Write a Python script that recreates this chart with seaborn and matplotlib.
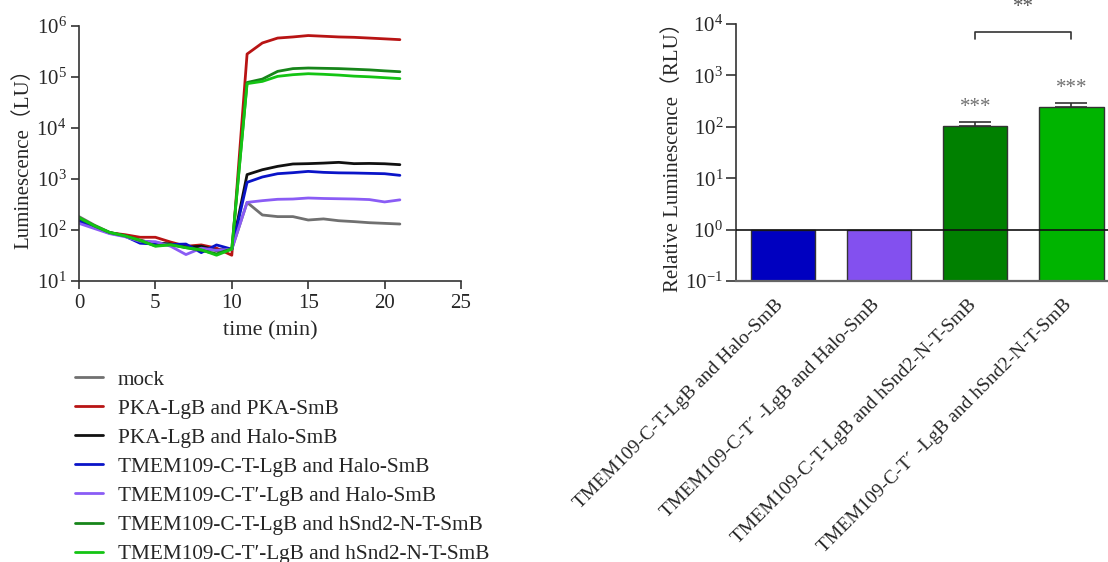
import numpy as np
import pandas as pd
import matplotlib
matplotlib.use("Agg")
import matplotlib.pyplot as plt
import matplotlib.transforms as mtransforms
import seaborn as sns
from matplotlib.ticker import LogLocator, LogFormatterSciNotation, NullLocator

# ---------------- data ----------------
time_min = list(range(22))
series_names = [
    "mock",
    "PKA-LgB and PKA-SmB",
    "PKA-LgB and Halo-SmB",
    "TMEM109-C-T-LgB and Halo-SmB",
    "TMEM109-C-T\u2032-LgB and Halo-SmB",
    "TMEM109-C-T-LgB and hSnd2-N-T-SmB",
    "TMEM109-C-T\u2032-LgB and hSnd2-N-T-SmB",
]
mock = [183, 125, 90, 78, 62, 55, 52, 46, 42, 40, 42,
        348, 197, 183, 183, 157, 165, 152, 146, 139, 135, 131]
pka_pka = [170, 120, 88, 81, 72, 72, 58, 48, 51, 44, 32,
           282000, 465000, 580000, 610000, 650000, 630000, 610000, 600000, 580000, 560000, 540000]
pka_halo = [165, 118, 88, 77, 62, 56, 53, 46, 48, 40, 42,
            1220, 1520, 1770, 1970, 2000, 2050, 2120, 2000, 2020, 1990, 1910]
ct_halo = [150, 112, 87, 76, 55, 53, 52, 53, 36, 51, 42,
           860, 1095, 1270, 1330, 1410, 1350, 1320, 1310, 1290, 1270, 1180]
ctp_halo = [135, 107, 85, 74, 60, 59, 48, 33, 44, 40, 42,
            348, 376, 400, 405, 424, 415, 410, 405, 395, 355, 390]
ct_hsnd2 = [172, 120, 89, 77, 62, 49, 52, 45, 40, 34, 43,
            78000, 91000, 129000, 146000, 150000, 148000, 146000, 142000, 138000, 132000, 127000]
ctp_hsnd2 = [175, 122, 90, 77, 63, 48, 51, 45, 41, 32, 42,
             74000, 82000, 103000, 111000, 116000, 113000, 109000, 104000, 101000, 97000, 93000]
line_colors = ["#707070", "#B81414", "#111111", "#0A14C8", "#8A5CF5", "#17851A", "#14C414"]

bar_labels = [
    "TMEM109-C-T-LgB and Halo-SmB",
    "TMEM109-C-T\u00b4 -LgB and Halo-SmB",
    "TMEM109-C-T-LgB and hSnd2-N-T-SmB",
    "TMEM109-C-T\u00b4 -LgB and hSnd2-N-T-SmB",
]
bar_values = [1.0, 1.0, 105.0, 248.0]
bar_err_upper = [0.0, 0.0, 18.0, 40.0]
bar_colors = ["#0000C0", "#8350EF", "#008000", "#00B400"]
bar_stars = ["", "", "***", "***"]

# ---------------- style ----------------
sns.set_theme(style="ticks")
plt.rcParams["font.family"] = ["Liberation Serif", "Noto Sans CJK SC"]
plt.rcParams["mathtext.fontset"] = "custom"
plt.rcParams["mathtext.rm"] = "Liberation Serif"
plt.rcParams["axes.unicode_minus"] = False
plt.rcParams["axes.edgecolor"] = "#333333"
plt.rcParams["axes.linewidth"] = 1.2

fig = plt.figure(figsize=(11.08, 5.62), dpi=100)

# ---------------- left: time course ----------------
ax1 = fig.add_axes([79 / 1108, 0.5, 382 / 1108, 255 / 562])
series_values = [mock, pka_pka, pka_halo, ct_halo, ctp_halo, ct_hsnd2, ctp_hsnd2]
rows = []
for name, vals in zip(series_names, series_values):
    for t, v in zip(time_min, vals):
        rows.append({"time": t, "lum": v, "group": name})
df_line = pd.DataFrame(rows)
sns.lineplot(data=df_line, x="time", y="lum", hue="group", hue_order=series_names,
             palette=line_colors, linewidth=2.0, ax=ax1, legend=False)
ax1.set_yscale("log")
ax1.set_ylim(10, 1e6)
ax1.set_xlim(0, 25)
ax1.set_xticks([0, 5, 10, 15, 20, 25])
ax1.yaxis.set_major_locator(LogLocator(base=10, numticks=10))
ax1.yaxis.set_major_formatter(LogFormatterSciNotation())
ax1.yaxis.set_minor_locator(NullLocator())
ax1.tick_params(axis="both", labelsize=15, length=6, width=1.2, color="#333333", pad=3)
ax1.set_xlabel("time (min)", fontsize=16, labelpad=6)
ax1.set_ylabel("Luminescence\uff08LU\uff09", fontsize=15, labelpad=2)
sns.despine(ax=ax1)

handles = [plt.Line2D([0], [0], color=c, lw=2.0) for c in line_colors]
fig.legend(handles, series_names, loc="upper left", bbox_to_anchor=(75 / 1108, 1 - 370 / 562),
           frameon=False, fontsize=15.3, handlelength=1.32, handletextpad=0.7,
           labelspacing=0.43, borderpad=0, borderaxespad=0)

# ---------------- right: bar chart ----------------
ax2 = fig.add_axes([735.7 / 1108, 0.5, 1 - 735.7 / 1108, 257 / 562])
df_bar = pd.DataFrame({"label": bar_labels, "value": bar_values})
sns.barplot(data=df_bar, x="label", y="value", hue="label", palette=bar_colors,
            saturation=1, width=0.667, edgecolor="#333333", linewidth=1.0,
            errorbar=None, legend=False, ax=ax2)
ax2.set_yscale("log")
ax2.set_ylim(0.1, 1e4)
ax2.set_xlim(-0.49, 3.38)
for i, (v, e, s) in enumerate(zip(bar_values, bar_err_upper, bar_stars)):
    if e > 0:
        ax2.errorbar(i, v, yerr=[[0], [e]], fmt="none", ecolor="#333333",
                     elinewidth=1.2, capsize=11.5, capthick=1.2)
    if s:
        ax2.text(i, (v + e) * 1.95, s, ha="center", va="center", fontsize=15,
                 color="#707070")
ax2.axhline(1.0, color="#111111", lw=1.2, zorder=3)
# significance bracket between bar 3 and 4
ax2.plot([2, 2, 3, 3], [5100, 7000, 7000, 5100], color="#333333", lw=1.2, clip_on=False)
ax2.text(2.5, 21000, "**", ha="center", va="center", fontsize=15, color="#555555",
         clip_on=False)
ax2.yaxis.set_major_locator(LogLocator(base=10, numticks=10))
ax2.yaxis.set_major_formatter(LogFormatterSciNotation())
ax2.yaxis.set_minor_locator(NullLocator())
ax2.tick_params(axis="y", labelsize=15, length=7, width=1.2, color="#333333", pad=2)
ax2.tick_params(axis="x", labelsize=14, length=0, pad=11)
ax2.set_xticks(range(len(bar_labels)))
ax2.set_xticklabels(bar_labels, rotation=45, ha="right", rotation_mode="anchor")
shift = mtransforms.ScaledTranslation(-8 / 100, 0, fig.dpi_scale_trans)
for lab in ax2.get_xticklabels():
    lab.set_transform(lab.get_transform() + shift)
ax2.set_xlabel("")
ax2.set_ylabel("Relative Luminescence\uff08RLU\uff09", fontsize=15, labelpad=2)
ax2.spines["bottom"].set_color("#666666")
ax2.spines["bottom"].set_linewidth(1.6)
sns.despine(ax=ax2)

fig.savefig("out.png", dpi=100)
